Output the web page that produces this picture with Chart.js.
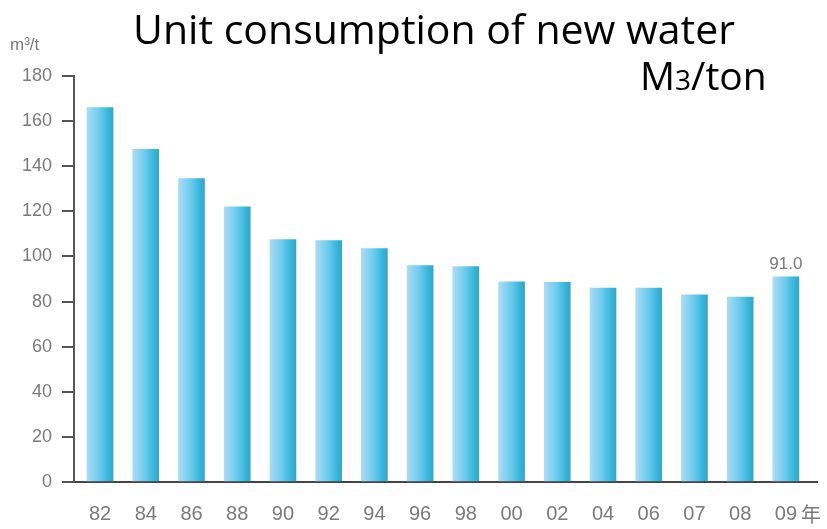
<!DOCTYPE html>
<html>
<head>
<meta charset="utf-8">
<script src="https://cdn.jsdelivr.net/npm/chart.js@4/dist/chart.umd.min.js"></script>
<style>
  html, body { margin: 0; padding: 0; background: #fff; }
  canvas { display: block; }
</style>
</head>
<body>
<canvas id="water" width="827" height="529"></canvas>
<script>
// years on the x axis (the last one gets the 年 suffix)
const years = ['82', '84', '86', '88', '90', '92', '94', '96', '98', '00', '02', '04', '06', '07', '08', '09'];
// new water used per ton, m3/t
const unitUse = [166, 147.5, 134.5, 122, 107.5, 107, 103.5, 96, 95.5, 88.8, 88.5, 86, 86, 83, 82, 91.0];
const yTicks = [0, 20, 40, 60, 80, 100, 120, 140, 160, 180];
const labelled = [15]; // bars that show their value

const grey = '#7a7a7a';

// light-to-dark cyan fill across each bar
function barFill(c) {
  const chart = c.chart;
  if (!chart.chartArea || c.dataIndex === undefined) return '#5cc4e8';
  const x = chart.scales.x.getPixelForValue(c.dataIndex);
  const g = chart.ctx.createLinearGradient(x - 13, 0, x + 13, 0);
  g.addColorStop(0, '#a9dcf5');
  g.addColorStop(0.45, '#70ccee');
  g.addColorStop(0.85, '#2fb5da');
  g.addColorStop(1, '#3ea2bf');
  return g;
}

const overlay = {
  id: 'overlay',
  afterDraw(chart) {
    const ctx = chart.ctx;
    ctx.save();

    // title
    ctx.fillStyle = '#000';
    ctx.textBaseline = 'alphabetic';
    ctx.textAlign = 'center';
    ctx.font = '41px "Open Sans"';
    ctx.fillText('Unit consumption of new water', 434, 44, 612);

    // unit in the corner: M3/ton with a small 3
    ctx.textAlign = 'left';
    let x = 640;
    ctx.font = '39px "Open Sans"';
    ctx.fillText('M', x, 90);
    x += ctx.measureText('M').width;
    ctx.font = '28px "Open Sans"';
    ctx.fillText('3', x, 90);
    x += ctx.measureText('3').width;
    ctx.font = '39px "Open Sans"';
    ctx.fillText('/ton', x, 90);

    // axis unit
    ctx.fillStyle = grey;
    ctx.font = '17px "Liberation Sans"';
    ctx.fillText('m³/t', 10, 50);

    // value labels
    const meta = chart.getDatasetMeta(0);
    ctx.textAlign = 'center';
    ctx.font = '17px "Liberation Sans"';
    labelled.forEach(i => {
      const bar = meta.data[i];
      ctx.fillText(unitUse[i].toFixed(1), bar.x, bar.y - 8);
    });

    // 年 after the last year label
    const xs = chart.scales.x;
    ctx.font = '20px "Noto Sans CJK SC"';
    ctx.textAlign = 'left';
    ctx.fillText('年', xs.getPixelForValue(years.length - 1) + 15, 522);

    ctx.restore();
  }
};

const ctx = document.getElementById('water');
const chart = new Chart(ctx, {
  type: 'bar',
  data: {
    datasets: [{
      data: unitUse.map((v, i) => ({ x: i, y: v })),
      backgroundColor: barFill,
      borderWidth: 0,
      barThickness: 26
    }]
  },
  options: {
    responsive: false,
    animation: false,
    layout: { padding: { top: 76, right: 10, left: 0, bottom: 0 } },
    plugins: {
      legend: { display: false },
      tooltip: { enabled: false }
    },
    scales: {
      x: {
        type: 'linear',
        offset: false,
        min: -0.57,
        max: 15.68,
        afterFit: s => { s.height = 47; },
        grid: { display: false, drawTicks: false, offset: false },
        border: { color: '#444', width: 2 },
        ticks: {
          stepSize: 1,
          includeBounds: false,
          autoSkip: false,
          maxRotation: 0,
          padding: 20,
          color: grey,
          font: { family: 'Liberation Sans', size: 20 },
          callback: v => years[v] ?? ''
        }
      },
      y: {
        min: yTicks[0],
        max: yTicks[yTicks.length - 1],
        afterFit: s => { s.width = 74; },
        grid: { drawOnChartArea: false, drawTicks: true, tickLength: 12, color: '#555', lineWidth: 2 },
        border: { color: '#555', width: 2 },
        ticks: {
          stepSize: 20,
          padding: 10,
          color: grey,
          font: { family: 'Liberation Sans', size: 18 }
        }
      }
    }
  },
  plugins: [overlay]
});
</script>
</body>
</html>
